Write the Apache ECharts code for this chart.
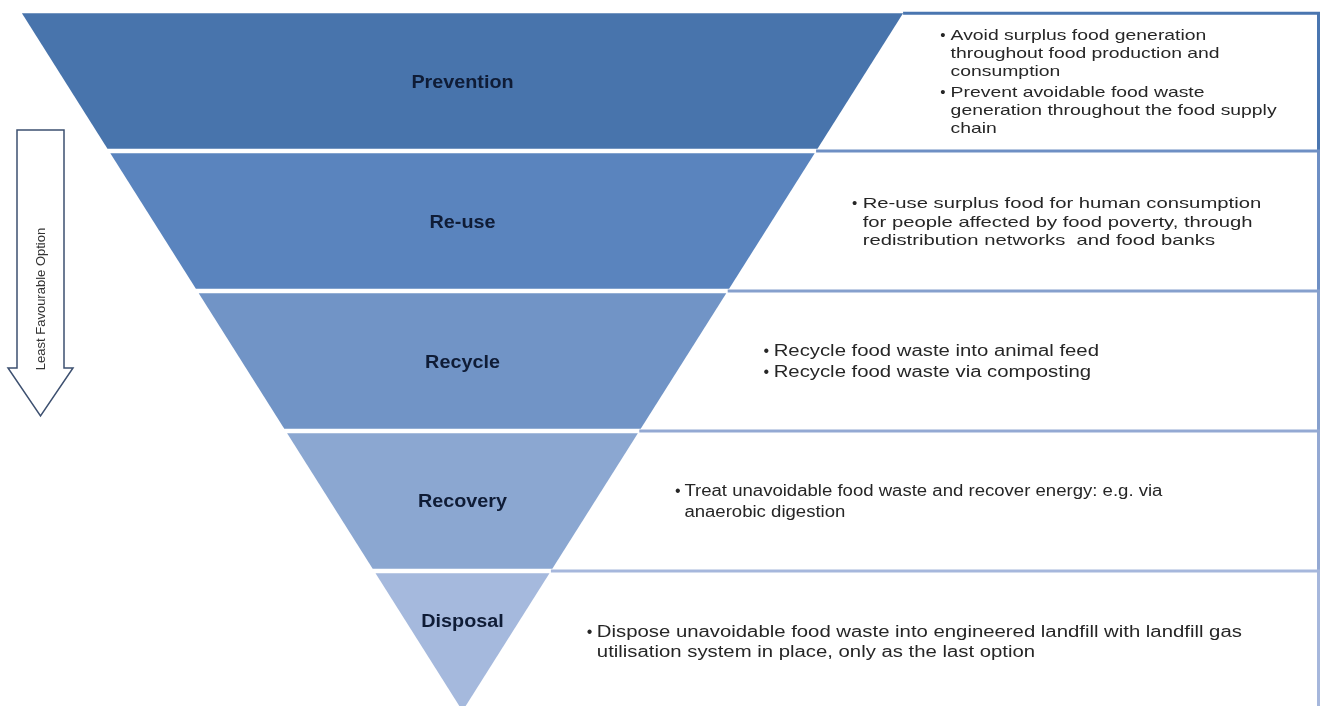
<!DOCTYPE html>
<html>
<head>
<meta charset="utf-8">
<script src="https://cdn.jsdelivr.net/npm/echarts@6/dist/echarts.min.js"></script>
<style>
html,body{margin:0;padding:0;background:#ffffff;}
#chart{width:1322px;height:706px;}
</style>
</head>
<body>
<div id="chart"></div>
<script>
// ---------- data ----------
const levels = ['Prevention', 'Re-use', 'Recycle', 'Recovery', 'Disposal'];
const widths = [5, 4, 3, 2, 1];
const descriptions = [
  [['Avoid surplus food generation', 'throughout food production and', 'consumption'],
   ['Prevent avoidable food waste', 'generation throughout the food supply', 'chain']],
  [['Re-use surplus food for human consumption', 'for people affected by food poverty, through', 'redistribution networks  and food banks']],
  [['Recycle food waste into animal feed'], ['Recycle food waste via composting']],
  [['Treat unavoidable food waste and recover energy: e.g. via', 'anaerobic digestion']],
  [['Dispose unavoidable food waste into engineered landfill with landfill gas', 'utilisation system in place, only as the last option']]
];
const arrowLabel = 'Least Favourable Option';

// ---------- styles ----------
const bandColors = ['#4874ac', '#5a84be', '#7194c6', '#8ba7d1', '#a5b9dd'];
const borderColors = ['#4a76b0', '#6e8fc4', '#86a0cd', '#94a9d3', '#a6b7dc'];
const textStyles = [
  {size: 15, scaleX: 1.29, lh: 18, gap: 3},
  {size: 15, scaleX: 1.35, lh: 18.5, gap: 0},
  {size: 16, scaleX: 1.27, lh: 21, gap: 0},
  {size: 16, scaleX: 1.16, lh: 21, gap: 0},
  {size: 16, scaleX: 1.27, lh: 19.5, gap: 0}
];
const labelDy = [2, 2, 2, 1, -19];

const seriesData = widths.map((w, i) => [i, w, i + 1 < widths.length ? widths[i + 1] : 0]);

function textEl(txt, x, y, opts) {
  return {
    type: 'text', x: x, y: y, scaleX: opts.scaleX || 1,
    style: {
      text: txt, x: 0, y: 0,
      fill: opts.fill,
      fontSize: opts.size, fontFamily: opts.family || 'Liberation Sans, Arial, sans-serif',
      fontWeight: opts.weight || 'normal',
      align: opts.align || 'left', verticalAlign: 'middle',
      textAlign: opts.align || 'left', textVerticalAlign: 'middle'
    }
  };
}

function renderItem(params, api) {
  const i = api.value(0);
  const w0 = api.value(1), w1 = api.value(2);
  const W = api.getWidth(), H = api.getHeight();
  const top = api.coord([0, i])[1];
  const bot = api.coord([0, i + 1])[1];
  const g = 2.25;
  const yT = top + g, yB = bot - g;
  const halfAt = y => w0 + (w1 - w0) * ((y - top) / (bot - top));
  const px = v => api.coord([v, i])[0];
  const cx = px(0);
  const children = [];

  // pyramid band
  children.push({
    type: 'polygon',
    shape: {points: [[px(-halfAt(yT)), yT], [px(halfAt(yT)), yT], [px(halfAt(yB)), yB], [px(-halfAt(yB)), yB]]},
    style: {fill: bandColors[i]}
  });

  // description box border (top + right)
  const lineY = i === 0 ? yT : top;
  const lineX = px(halfAt(lineY));
  const xR = W - 3.5;
  const nextY = i === levels.length - 1 ? H : bot;
  children.push({
    type: 'polyline',
    shape: {points: [[lineX, lineY], [xR, lineY], [xR, nextY]]},
    style: {stroke: borderColors[i], lineWidth: 3, fill: null}
  });

  // band label
  const mid = (yT + yB) / 2;
  children.push(textEl(levels[i], cx, mid + labelDy[i], {
    size: 17.5, weight: 'bold', fill: '#0f1c36', align: 'center', scaleX: 1.13
  }));

  // description text
  const ts = textStyles[i];
  const paras = descriptions[i];
  let nLines = 0;
  paras.forEach(p => nLines += p.length);
  const totalH = (nLines - 1) * ts.lh + (paras.length - 1) * ts.gap;
  let y = mid + 1.5 - totalH / 2;
  const x0 = px(halfAt(mid)) + 80;
  const indent = 8 * ts.scaleX;
  paras.forEach((p) => {
    children.push(textEl('\u2022', x0, y, {size: ts.size, fill: '#262626', scaleX: 1}));
    p.forEach((line, li) => {
      children.push(textEl(line, x0 + indent, y, {size: ts.size, fill: '#262626', scaleX: ts.scaleX}));
      if (li < p.length - 1) y += ts.lh;
    });
    y += ts.lh + ts.gap;
  });

  return {type: 'group', children: children};
}

const chart = echarts.init(document.getElementById('chart'), null, {renderer: 'canvas'});
chart.setOption({
  animation: false,
  backgroundColor: '#ffffff',
  grid: {left: 20.5, top: 11, width: 884, height: 700, outerBoundsMode: 'none', containLabel: false},
  xAxis: {type: 'value', min: -5, max: 5, show: false},
  yAxis: {type: 'value', min: 0, max: 5, inverse: true, show: false},
  graphic: [
    {
      type: 'polygon',
      shape: {points: [[17, 130], [64, 130], [64, 368], [73, 368], [40.5, 416], [8, 368], [17, 368]]},
      style: {fill: '#ffffff', stroke: '#3d5070', lineWidth: 1.5}
    },
    {
      type: 'text', x: 41, y: 299, rotation: Math.PI / 2,
      style: {
        text: arrowLabel, fill: '#333333', fontSize: 13,
        fontFamily: 'Liberation Sans, Arial, sans-serif',
        align: 'center', verticalAlign: 'middle', textAlign: 'center', textVerticalAlign: 'middle'
      }
    }
  ],
  series: [{
    type: 'custom',
    coordinateSystem: 'cartesian2d',
    clip: false,
    renderItem: renderItem,
    data: seriesData
  }]
});
</script>
</body>
</html>
